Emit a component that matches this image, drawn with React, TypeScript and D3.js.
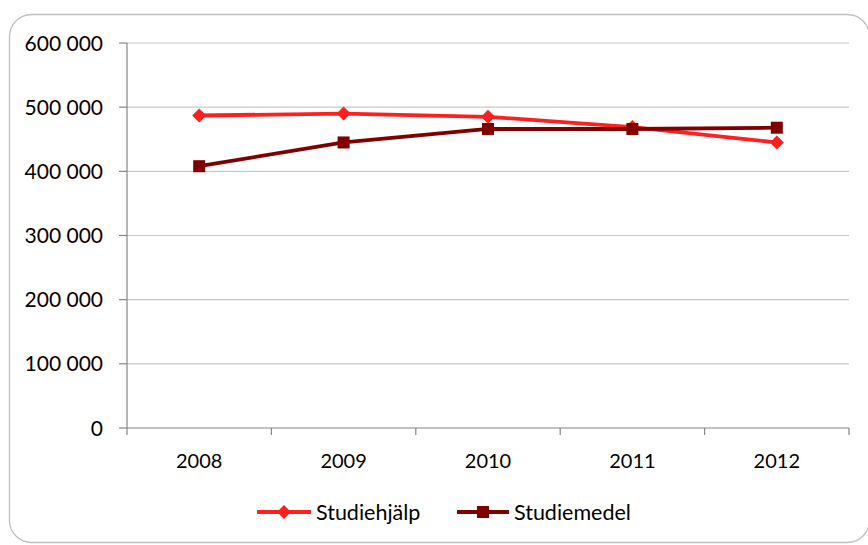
import React from "react";
import * as d3 from "d3";

const years = ["2008", "2009", "2010", "2011", "2012"];
const studiehjalp = [487000, 490000, 485000, 469000, 445000];
const studiemedel = [408000, 445000, 466000, 466000, 468000];
const yTicks = [0, 100000, 200000, 300000, 400000, 500000, 600000];
const seriesNames = ["Studiehjälp", "Studiemedel"];
const seriesColors = ["#ff1f1f", "#800000"];

const W = 868, H = 545;
const left = 127, right = 849, top = 43, bottom = 428;
const font = "Lato, 'Open Sans', sans-serif";

export default function App() {
  const x = d3.scaleBand().domain(years).range([left, right]);
  const y = d3.scaleLinear().domain([0, 600000]).range([bottom, top]);
  const fmt = (v: number) => d3.format(",")(v).replace(/,/g, " ");
  const line = d3.line<number>().x((_, i) => x(years[i])! + x.bandwidth() / 2).y((d) => y(d));
  const series = [studiehjalp, studiemedel];
  const diamond = (cx: number, cy: number, r: number) => `M${cx},${cy - r}L${cx + r},${cy}L${cx},${cy + r}L${cx - r},${cy}Z`;
  const marker = (i: number, cx: number, cy: number, k: string) =>
    i === 0 ? (
      <path key={k} d={diamond(cx, cy, 7)} fill={seriesColors[0]} />
    ) : (
      <rect key={k} x={cx - 6} y={cy - 6} width={12} height={12} fill={seriesColors[1]} />
    );
  const legendPos = [{ x0: 257, x1: 311, tx: 316 }, { x0: 457, x1: 509, tx: 514 }];
  const boundaries = [...years.map((yy) => x(yy)!), right];
  return (
    <svg width={W} height={H} style={{ position: "absolute", left: 0, top: 0, background: "#fff" }} fontFamily={font}>
      <rect x={9.5} y={14.5} width={860} height={528} rx={22} fill="#fff" stroke="#bfbfbf" strokeWidth={1.3} />
      {yTicks.map((t) => (
        <g key={t}>
          {t > 0 && <line x1={left} x2={right} y1={y(t)} y2={y(t)} stroke="#c8c8c8" strokeWidth={1.2} />}
          <line x1={119} x2={left} y1={y(t)} y2={y(t)} stroke="#868686" strokeWidth={1.2} />
          <text x={103} y={y(t)} dy="0.36em" textAnchor="end" fontSize={21} fill="#000">{fmt(t)}</text>
        </g>
      ))}
      <line x1={left} x2={left} y1={top} y2={bottom} stroke="#868686" strokeWidth={1.2} />
      <line x1={left} x2={right} y1={bottom} y2={bottom} stroke="#868686" strokeWidth={1.2} />
      {boundaries.map((bx, i) => (
        <line key={i} x1={bx} x2={bx} y1={bottom} y2={bottom + 7} stroke="#868686" strokeWidth={1.2} />
      ))}
      {years.map((yy) => (
        <text key={yy} x={x(yy)! + x.bandwidth() / 2} y={461} dy="0.36em" textAnchor="middle" fontSize={20} fill="#000">{yy}</text>
      ))}
      {series.map((s, i) => (
        <g key={i}>
          <path d={line(s)!} fill="none" stroke={seriesColors[i]} strokeWidth={3.8} strokeLinejoin="round" />
          {s.map((v, j) => marker(i, x(years[j])! + x.bandwidth() / 2, y(v), `${i}-${j}`))}
        </g>
      ))}
      {seriesNames.map((n, i) => (
        <g key={n}>
          <line x1={legendPos[i].x0} x2={legendPos[i].x1} y1={512} y2={512} stroke={seriesColors[i]} strokeWidth={3.8} />
          {marker(i, (legendPos[i].x0 + legendPos[i].x1) / 2, 512, `l${i}`)}
          <text x={legendPos[i].tx} y={512} dy="0.36em" fontSize={21.5} fill="#000">{n}</text>
        </g>
      ))}
    </svg>
  );
}
